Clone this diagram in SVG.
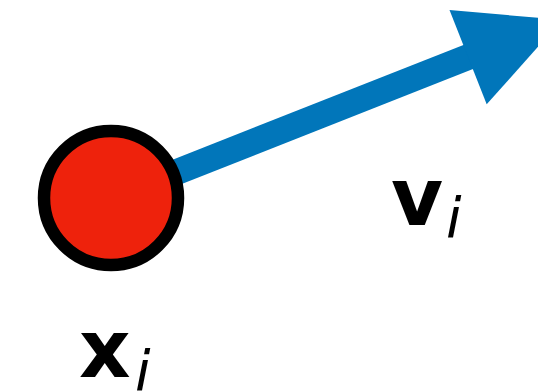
<svg xmlns="http://www.w3.org/2000/svg" width="538" height="392" viewBox="0 0 538 392">
<style>
.main{font-family:"DejaVu Sans",sans-serif;font-weight:bold;font-size:80px;fill:#000}
.sub{font-family:"DejaVu Sans",sans-serif;font-style:italic;font-size:56px;fill:#000}
.arrow{fill:#0176BA;stroke:none}
.shaft{stroke:#0176BA;stroke-width:26;fill:none}
</style>
<rect width="538" height="392" fill="#fff"/>
<g id="connectors">
<line class="shaft" x1="111" y1="198" x2="472" y2="55.5"/>
<polygon class="arrow" points="449.5,9.9 562,20 486.7,104.3"/>
</g>
<g id="node-xi">
<circle cx="111" cy="198" r="67" fill="#EE220C" stroke="#000" stroke-width="12.5"/>
</g>
<g id="label-v">
<text class="main" x="391" y="225">v</text>
<text class="sub" x="446" y="237">i</text>
</g>
<g id="label-x">
<text class="main" x="79" y="377">x</text>
<text class="sub" x="135" y="390">i</text>
</g>
</svg>
